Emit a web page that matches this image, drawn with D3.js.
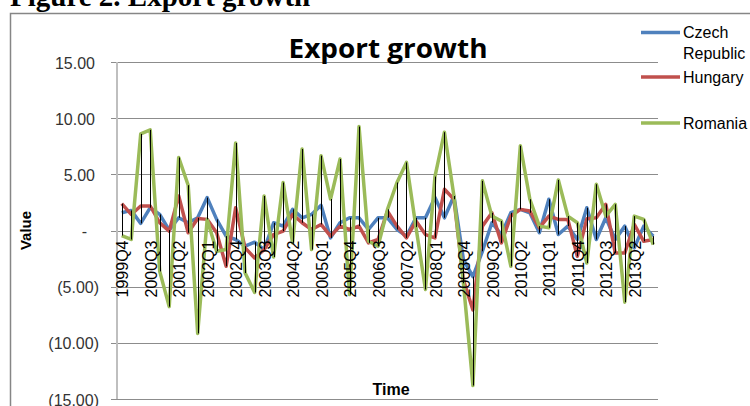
<!DOCTYPE html>
<html>
<head>
<meta charset="utf-8">
<script src="https://cdn.jsdelivr.net/npm/d3@7"></script>
<style>
  html, body { margin: 0; padding: 0; background: #fff; }
  svg { display: block; }
</style>
</head>
<body>
<svg id="chart" width="750" height="406"></svg>
<script>
const categories = [
  "1999Q4",
  "2000Q1","2000Q2","2000Q3","2000Q4",
  "2001Q1","2001Q2","2001Q3","2001Q4",
  "2002Q1","2002Q2","2002Q3","2002Q4",
  "2003Q1","2003Q2","2003Q3","2003Q4",
  "2004Q1","2004Q2","2004Q3","2004Q4",
  "2005Q1","2005Q2","2005Q3","2005Q4",
  "2006Q1","2006Q2","2006Q3","2006Q4",
  "2007Q1","2007Q2","2007Q3","2007Q4",
  "2008Q1","2008Q2","2008Q3","2008Q4",
  "2009Q1","2009Q2","2009Q3","2009Q4",
  "2010Q1","2010Q2","2010Q3","2010Q4",
  "2011Q1","2011Q2","2011Q3","2011Q4",
  "2012Q1","2012Q2","2012Q3","2012Q4",
  "2013Q1","2013Q2","2013Q3","2013Q4"
];

const czech = [
  1.58, 1.79, 0.63, 2.03, 1.43, 0.03, 1.13, 0.69, 1.13, 2.93,
  0.99, -0.50, -0.80, -1.40, -1.04, -1.70, 0.69, 0.39, 1.88, 1.13,
  1.43, 2.24, -0.66, 0.69, 1.13, 1.13, 0.09, 1.13, 1.13, 0.09,
  -0.50, 1.13, 1.13, 2.93, 1.13, 3.07, -2.60, -4.10, -1.85, 0.69,
  -0.36, 1.58, 1.88, 1.58, -0.20, 2.78, -0.36, 0.39, -0.80, 2.03,
  -0.80, 1.13, -0.80, 0.39, -1.55, 0.39, -0.50
];

const hungary = [
  2.39, 1.43, 2.18, 2.18, 0.69, -0.06, 3.07, -0.20, 1.07, 0.99,
  -0.20, -3.19, 2.03, -1.55, -2.45, -1.70, -0.36, -0.06, 1.43, 0.69,
  0.09, 0.54, -0.50, 0.39, 0.09, 0.39, -1.10, -0.80, 1.73, 0.39,
  -0.66, 0.84, -0.36, -0.66, 3.67, 2.78, -4.40, -7.07, 0.39, 1.58,
  -1.10, 1.28, 1.88, 1.73, 0.24, 1.28, 0.99, 0.99, -2.30, 1.04,
  1.13, 2.33, -2.00, -2.00, 0.54, -0.96, -0.80
];

const romania = [
  -0.45, -0.80, 8.60, 8.96, -3.64, -6.78, 6.50, 4.03, -9.16, 0.99,
  -1.85, -1.70, 7.79, -3.79, -5.52, 3.07, -2.36, 4.27, -1.10, 7.25,
  -1.70, 6.66, 2.80, 6.36, -5.70, 9.25, -0.95, -1.40, 1.88, 4.27,
  6.06, 0.30, -5.25, 4.80, 8.75, 3.07, -4.70, -13.80, 4.42, 1.28,
  0.84, -3.19, 7.55, 2.78, 0.39, 0.24, 4.50, 1.28, 0.69, -2.90,
  4.12, 1.28, 2.33, -6.38, 1.28, 0.99, -1.25
];

const seriesNames = ["Czech Republic", "Hungary", "Romania"];
const seriesColors = ["#4F81BD", "#C0504D", "#9BBB59"];
const yTicks = [15, 10, 5, 0, -5, -10, -15];

const svg = d3.select("#chart");

// header (partly cut off at top, as in the source page)
svg.append("text")
  .attr("x", 10).attr("y", 6)
  .attr("font-family", "'Liberation Serif', 'Times New Roman', serif")
  .attr("font-weight", "bold")
  .attr("font-size", 29)
  .attr("fill", "#000")
  .text("Figure 2. Export growth");

// chart frame
svg.append("rect")
  .attr("x", 10.5).attr("y", 13.5)
  .attr("width", 800).attr("height", 500)
  .attr("fill", "none")
  .attr("stroke", "#868686")
  .attr("stroke-width", 1.5);

const plotLeft = 117, plotRight = 658, plotTop = 62, plotBottom = 399;

const x = d3.scaleBand().domain(categories).range([plotLeft, plotRight]).padding(0);
const cx = d => x(d) + x.bandwidth() / 2;
const y = d3.scaleLinear().domain([-15, 15]).range([plotBottom, plotTop]);

// gridlines with tick stubs
svg.append("g")
  .selectAll("line")
  .data(yTicks)
  .join("line")
  .attr("x1", plotLeft - 6).attr("x2", plotRight)
  .attr("y1", d => Math.round(y(d)) + 0.5)
  .attr("y2", d => Math.round(y(d)) + 0.5)
  .attr("stroke", "#8c8c8c")
  .attr("stroke-width", 1);

// y axis line
svg.append("line")
  .attr("x1", plotLeft).attr("x2", plotLeft)
  .attr("y1", plotTop).attr("y2", plotBottom)
  .attr("stroke", "#bfbfbf")
  .attr("stroke-width", 2);

// y tick labels (accounting format)
const fmtTick = v => v === 0 ? "-" : (v < 0 ? "(" + Math.abs(v).toFixed(2) + ")" : v.toFixed(2));
svg.append("g")
  .selectAll("text")
  .data(yTicks)
  .join("text")
  .attr("x", d => d === 0 ? 87 : (d < 0 ? 99 : 95))
  .attr("y", d => y(d) + 1)
  .attr("dy", "0.35em")
  .attr("text-anchor", "end")
  .attr("font-family", "'Liberation Sans', Arial, sans-serif")
  .attr("font-size", 16)
  .attr("fill", "#333")
  .text(fmtTick);

// series lines
const lineGen = d3.line()
  .x((d, i) => cx(categories[i]))
  .y(d => y(d));

const allSeries = [czech, hungary, romania];
svg.append("g")
  .selectAll("path")
  .data(allSeries)
  .join("path")
  .attr("d", d => lineGen(d))
  .attr("fill", "none")
  .attr("stroke", (d, i) => seriesColors[i])
  .attr("stroke-width", 3.5)
  .attr("stroke-linejoin", "round");

// high-low lines
svg.append("g")
  .selectAll("line")
  .data(categories)
  .join("line")
  .attr("x1", d => Math.round(cx(d)) + 0.5)
  .attr("x2", d => Math.round(cx(d)) + 0.5)
  .attr("y1", (d, i) => y(Math.max(czech[i], hungary[i], romania[i])))
  .attr("y2", (d, i) => y(Math.min(czech[i], hungary[i], romania[i])))
  .attr("stroke", "#000")
  .attr("stroke-width", 1);

// x tick labels (every third category), next to axis
const y0 = y(0);
svg.append("g")
  .selectAll("text")
  .data(categories.filter((d, i) => i % 3 === 0))
  .join("text")
  .attr("transform", d => `translate(${cx(d) + 1},${y0 + 10}) rotate(-90)`)
  .attr("dy", "0.35em")
  .attr("text-anchor", "end")
  .attr("font-family", "'Liberation Sans', Arial, sans-serif")
  .attr("font-size", 16)
  .attr("fill", "#000")
  .text(d => d);

// chart title
svg.append("text")
  .attr("x", 388).attr("y", 58)
  .attr("text-anchor", "middle")
  .attr("font-family", "'Open Sans', 'Liberation Sans', sans-serif")
  .attr("font-weight", "bold")
  .attr("font-size", 27)
  .attr("textLength", 199)
  .attr("lengthAdjust", "spacingAndGlyphs")
  .attr("fill", "#000")
  .text("Export growth");

// axis titles
svg.append("text")
  .attr("transform", `translate(31,${y0}) rotate(-90)`)
  .attr("text-anchor", "middle")
  .attr("font-family", "'Liberation Sans', Arial, sans-serif")
  .attr("font-weight", "bold")
  .attr("font-size", 15)
  .attr("fill", "#000")
  .text("Value");

svg.append("text")
  .attr("x", 391).attr("y", 395)
  .attr("text-anchor", "middle")
  .attr("font-family", "'Liberation Sans', Arial, sans-serif")
  .attr("font-weight", "bold")
  .attr("font-size", 16)
  .attr("fill", "#000")
  .text("Time");

// legend
const legendY = [32.5, 77, 123];
const lg = svg.append("g");
seriesNames.forEach((name, i) => {
  lg.append("line")
    .attr("x1", 641).attr("x2", 680)
    .attr("y1", legendY[i]).attr("y2", legendY[i])
    .attr("stroke", seriesColors[i])
    .attr("stroke-width", 3.5);
  const t = lg.append("text")
    .attr("x", 683).attr("y", legendY[i])
    .attr("font-family", "'Liberation Sans', Arial, sans-serif")
    .attr("font-size", 16)
    .attr("fill", "#000");
  const words = name.split(" ");
  words.forEach((w, k) => {
    t.append("tspan").attr("x", 683).attr("dy", k === 0 ? "0.35em" : "1.3em").text(w);
  });
});
</script>
</body>
</html>
